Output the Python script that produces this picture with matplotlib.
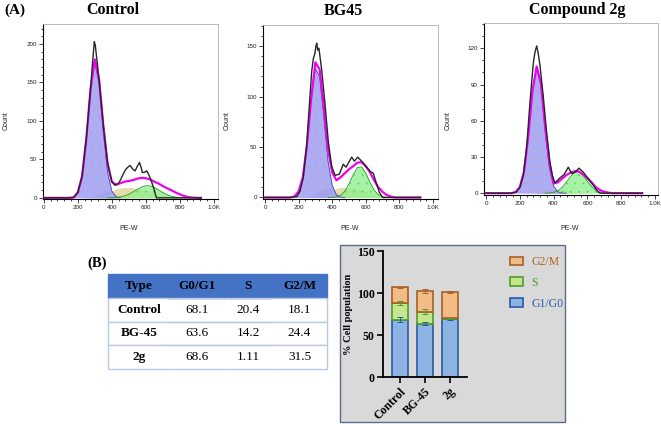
import matplotlib.pyplot as plt
from matplotlib.patches import Rectangle
from matplotlib.ticker import MultipleLocator, FixedLocator
import numpy as np

W, H = 661, 424
plt.rcParams['font.family'] = ['Liberation Sans', 'DejaVu Sans']
plt.rcParams['hatch.linewidth'] = 0.25
SERIF = 'Liberation Serif'

# ---- (A) cell cycle histograms, PE-W channel ----
pe_w = [0, 150, 175, 200, 225, 250, 275, 300, 325, 350, 375, 400, 425, 450, 475, 500,
        525, 550, 575, 600, 625, 650, 675, 700, 725, 750, 775, 800, 825, 850, 875, 900, 925]

# Control
ctrl_g1 = [0, 0, 1, 7, 28, 76, 140, 176, 149, 86, 33, 9, 1.5] + [0] * 20
ctrl_deb = [0, 0, 0, 0, 0, 0.5, 1.5, 3, 5, 7, 8.5, 7, 4, 1.5, 0.5] + [0] * 18
ctrl_s = [0] * 9 + [0.5, 3, 8, 12, 13, 13.5, 13.5, 13, 12, 11, 10, 8.5, 7, 5.5, 4.5, 3.5,
                    2.5, 2, 1.5, 1, 0.5, 0.2, 0, 0]
ctrl_g2 = [0] * 11 + [0.2, 0.5, 1.2, 2.5, 4.6, 7.7, 11, 14, 15.8, 15.6, 13.6, 10.4, 7, 4.1,
                      2.2, 1, 0.4, 0.1] + [0] * 4
ctrl_fit = [0, 0, 0.5, 7, 28, 77, 142, 180, 154, 94, 45, 21, 17, 19, 21, 22, 23, 25, 26,
            25.5, 24, 21, 18.5, 15.5, 12.5, 10, 7, 4.5, 2.5, 1, 0.3, 0, 0]
ctrl_cnt_x = [0, 150, 175, 200, 225, 250, 275, 290, 297, 303, 310, 325, 350, 375, 400, 418,
              440, 453, 467, 482, 495, 508, 518, 525, 537, 550, 563, 572, 580, 590, 606, 618,
              629, 640, 649, 656, 663, 925]
ctrl_cnt = [0, 0, 0.5, 7, 28, 77, 142, 185, 203, 198, 184, 154, 94, 45, 21, 16.5, 19, 24,
            31, 37, 40, 42, 39, 37, 35, 41, 46, 40, 33, 33, 35, 30, 24, 17, 11, 5, 0, 0]

# BG45
bg_g1 = [0, 0, 1, 5, 18.5, 50, 95, 128, 120, 79, 36, 12, 2.7, 0.4] + [0] * 19
bg_deb = [0] * 5 + [0.5, 2, 4, 6, 8, 9.5, 8, 5, 2, 0.5] + [0] * 18
bg_s = [0] * 10 + [1, 5, 9, 10, 10, 9.5, 9, 8, 7, 6, 4.5, 3, 1.5, 0.5] + [0] * 9
bg_g2 = [0] * 11 + [0.1, 0.6, 2.2, 6.1, 13.3, 22.5, 29.6, 30.4, 24.3, 15.1, 7.3, 2.8, 0.8,
                    0.2] + [0] * 8
bg_fit = [0, 0, 1, 6, 20, 52, 98, 134, 127, 90, 48, 25, 17, 20, 24, 28, 31, 34.5, 35, 31,
          25, 17, 10, 5.5, 2.5, 0.8, 0, 0, 0, 0, 0, 0, 0]
bg_cnt_x = [0, 150, 190, 208, 228, 248, 268, 278, 288, 296, 303, 308, 314, 321, 337, 357,
            377, 397, 417, 442, 466, 482, 496, 516, 532, 552, 575, 601, 625, 645, 661, 681,
            700, 925]
bg_cnt = [0, 0, 1, 6, 20, 52, 101, 125, 138, 142, 150, 153, 146, 148, 127, 93, 55, 31, 22,
          23, 33, 30, 34, 40, 36, 40, 36, 31, 26, 24, 15, 5, 0, 0]

# Compound 2g
cp_g1 = [0, 0, 0.9, 4.7, 17.8, 46.5, 84, 104, 89, 52, 21, 6, 1.1, 0.1] + [0] * 19
cp_deb = [0] * 7 + [0.3, 0.8, 1.5, 2, 2, 1.5, 0.8, 0.3] + [0] * 18
cp_s = [0] * 9 + [0.5, 1.5, 2.5, 3, 3, 2.5, 2, 1.5, 1, 0.5] + [0] * 14
cp_g2 = [0] * 10 + [0.2, 0.7, 2, 4.7, 9, 13.8, 17.4, 17.7, 14.7, 9.9, 5.5, 2.4, 0.9,
                    0.3] + [0] * 9
cp_fit = [0, 0, 1, 5, 18, 47, 85, 105, 91, 55, 25, 8, 9, 12, 15, 17, 18.2, 18, 15.5, 12.5,
          9, 5, 2.5, 1.2, 0.4, 0, 0, 0, 0, 0, 0, 0, 0]
cp_cnt_x = [0, 150, 180, 201, 221, 241, 260, 280, 290, 300, 310, 320, 339, 359, 379, 394,
            408, 438, 462, 487, 507, 527, 550, 576, 605, 635, 664, 680, 925]
cp_cnt = [0, 0, 1, 5, 15, 39, 75, 108, 117, 122, 115, 105, 80, 50, 25, 14, 8.5, 12.7, 15.4,
          21.5, 16.3, 17.4, 20.7, 17.4, 11.9, 6.6, 0.8, 0, 0]

pe_ticks = [0, 200, 400, 600, 800, 1000]
pe_labels = ['0', '200', '400', '600', '800', '1.0K']

# ---- (B) table + stacked bars ----
table_cols = ['Type', 'G0/G1', 'S', 'G2/M']
groups = ['Control', 'BG-45', '2g']
g0g1 = [68.1, 63.6, 68.6]
s_phase = [20.4, 14.2, 1.11]
g2m = [18.1, 24.4, 31.5]
g0g1_err = [3, 2, 1]
s_err = [2.5, 3, 0.5]
g2m_err = [1, 2, 0.8]

fig = plt.figure(figsize=(W / 100, H / 100), dpi=100)


def px_axes(l, t, r, b):
    return fig.add_axes([l / W, 1 - b / H, (r - l) / W, (b - t) / H])


def trim(x, y):
    # keep the nonzero stretch plus one zero each side
    nz = [i for i, v in enumerate(y) if v > 0]
    a, b = max(nz[0] - 1, 0), min(nz[-1] + 2, len(y))
    return x[a:b], y[a:b]


def flow_panel(box, xlim, ylim, ymajor, fit, cnt_x, cnt, g1, s, g2, deb):
    ax = px_axes(*box)
    ax.fill_between(pe_w, deb, color='#a8a8a8', lw=0, zorder=1)
    ax.fill_between(pe_w, s, color='#e4d9a0', alpha=0.9, lw=0, zorder=2)
    ax.fill_between(pe_w, g2, color='#90f090', alpha=0.8, lw=0, zorder=3)
    ax.fill_between(pe_w, g2, facecolor='none', edgecolor='#70d070', hatch='..', lw=0,
                    zorder=3)
    ax.fill_between(pe_w, g1, color='#a4a4f4', alpha=0.9, lw=0, zorder=4)
    ax.fill_between(pe_w, g1, facecolor='none', edgecolor='#c89cb8', hatch='..', lw=0,
                    zorder=4)
    ax.plot(*trim(pe_w, g1), color='#4848b8', lw=0.6, zorder=5)
    ax.plot(*trim(pe_w, g2), color='#20a020', lw=0.6, zorder=5)
    ax.plot(pe_w, fit, color='#f000f0', lw=1.6, zorder=6)
    ax.plot(cnt_x, cnt, color='#262626', lw=1.0, zorder=7)
    ax.set_xlim(*xlim)
    ax.set_ylim(*ylim)
    ax.xaxis.set_major_locator(FixedLocator(pe_ticks))
    ax.set_xticklabels(pe_labels)
    ax.xaxis.set_minor_locator(MultipleLocator(40))
    ax.yaxis.set_major_locator(MultipleLocator(ymajor))
    ax.yaxis.set_minor_locator(MultipleLocator(10))
    ax.tick_params(which='both', direction='out', width=0.6, labelsize=4.5, pad=1.5,
                   colors='#222222')
    ax.tick_params(which='major', length=2.8)
    ax.tick_params(which='minor', length=1.5)
    for sp in ['top', 'right']:
        ax.spines[sp].set_color('#b0b0b0')
        ax.spines[sp].set_linewidth(0.6)
    for sp in ['left', 'bottom']:
        ax.spines[sp].set_linewidth(0.8)
    return ax


flow_panel((43, 24, 218, 199), (-5, 1025), (-1.5, 226), 50,
           ctrl_fit, ctrl_cnt_x, ctrl_cnt, ctrl_g1, ctrl_s, ctrl_g2, ctrl_deb)
flow_panel((263, 25, 438, 199), (-12, 1030), (-1.5, 171), 50,
           bg_fit, bg_cnt_x, bg_cnt, bg_g1, bg_s, bg_g2, bg_deb)
flow_panel((484, 23, 658, 195), (-12, 1018), (-1.5, 141), 30,
           cp_fit, cp_cnt_x, cp_cnt, cp_g1, cp_s, cp_g2, cp_deb)

title_kw = dict(family=SERIF, fontweight='bold', fontsize=11.5, ha='center', va='center')
fig.text(113 / W, 1 - 10 / H, 'Control', **title_kw)
fig.text(343 / W, 1 - 11 / H, 'BG45', **title_kw)
fig.text(577 / W, 1 - 10 / H, 'Compound 2g', **title_kw)
fig.text(4 / W, 1 - 10 / H, '(A)', family=SERIF, fontweight='bold', fontsize=11,
         ha='left', va='center')
for cx in [6, 227, 448]:
    fig.text(cx / W, 1 - 121 / H, 'Count', rotation=90, fontsize=5, ha='center',
             va='center', color='#222222')
for cx in [129, 350, 570]:
    fig.text(cx / W, 1 - 228 / H, 'PE-W', fontsize=5, ha='center', va='center',
             color='#222222')

# ---- (B) table ----
fig.text(87 / W, 1 - 263 / H, '(B)', family=SERIF, fontweight='bold', fontsize=10.5,
         ha='left', va='center')
tx = px_axes(108, 274, 327, 369)
tx.axis('off')
rows = [[g, str(a), str(b), str(c)] for g, a, b, c in zip(groups, g0g1, s_phase, g2m)]
tab = tx.table(cellText=rows, colLabels=table_cols, bbox=[0, 0, 1, 1], cellLoc='center',
               colWidths=[62, 54, 48, 55])
tab.auto_set_font_size(False)
for (r, c), cell in tab.get_celld().items():
    txt = cell.get_text()
    txt.set_fontfamily(SERIF)
    txt.set_fontsize(9.5)
    cell.set_linewidth(1.0)
    if r == 0:
        cell.set_facecolor('#4472c4')
        cell.set_edgecolor('#4472c4')
        txt.set_fontweight('bold')
    else:
        cell.set_edgecolor('#b8c9e6')
        edges = 'TB' + ('L' if c == 0 else '') + ('R' if c == 3 else '')
        cell.visible_edges = edges
        if c == 0:
            txt.set_fontweight('bold')

# ---- (B) stacked bars ----
fig.patches.append(Rectangle((340 / W, 1 - 422 / H), 225 / W, 177 / H,
                             transform=fig.transFigure, facecolor='#d9d9d9',
                             edgecolor='#5d6c86', lw=1.0, zorder=-1))
bx = px_axes(383, 251, 467, 377)
bx.patch.set_visible(False)
xpos = np.arange(len(groups))
bw = 0.64
s_bottom = g0g1
g2_bottom = [a + b for a, b in zip(g0g1, s_phase)]
tops = [a + b for a, b in zip(g2_bottom, g2m)]
bx.bar(xpos, g0g1, bw, color='#8db3e2', edgecolor='#2a5aa6', lw=1.2, label='G1/G0')
bx.bar(xpos, s_phase, bw, bottom=s_bottom, color='#c6e68e', edgecolor='#4c9e2c', lw=1.2,
       label='S')
bx.bar(xpos, g2m, bw, bottom=g2_bottom, color='#f3bb86', edgecolor='#a85f24', lw=1.2,
       label='G2/M')
bx.errorbar(xpos, g0g1, yerr=g0g1_err, fmt='none', ecolor='#2a5aa6', elinewidth=0.7,
            capsize=2.5, capthick=0.7)
bx.errorbar(xpos, g2_bottom, yerr=s_err, fmt='none', ecolor='#4c9e2c', elinewidth=0.7,
            capsize=2.5, capthick=0.7)
bx.errorbar(xpos, tops, yerr=g2m_err, fmt='none', ecolor='#a85f24', elinewidth=0.7,
            capsize=2.5, capthick=0.7)
bx.set_xlim(-0.66, 2.7)
bx.set_ylim(0, 150)
bx.set_yticks([0, 50, 100, 150])
bx.set_xticks(xpos)
bx.set_xticklabels(groups, rotation=45, ha='right', rotation_mode='anchor')
for lab in bx.get_xticklabels() + bx.get_yticklabels():
    lab.set_fontfamily(SERIF)
    lab.set_fontweight('bold')
    lab.set_fontsize(8.5)
bx.tick_params(direction='out', length=4, width=1.2, pad=2)
bx.spines['top'].set_visible(False)
bx.spines['right'].set_visible(False)
bx.spines['left'].set_linewidth(1.3)
bx.spines['bottom'].set_linewidth(1.3)
bx.set_ylabel('% Cell population', family=SERIF, fontweight='bold', fontsize=7.5)
bx.yaxis.set_label_coords(-0.36, 0.5)

handles, labels = bx.get_legend_handles_labels()
leg = bx.legend(handles[::-1], labels[::-1], loc='upper left',
                bbox_to_anchor=(510 / W, 1 - 256 / H), bbox_transform=fig.transFigure,
                frameon=False, prop={'family': SERIF, 'size': 8.5}, handlelength=1.1,
                handleheight=0.75, handletextpad=0.7, labelspacing=0.75, borderpad=0,
                borderaxespad=0)
for t, c in zip(leg.get_texts(), ['#b0651f', '#4a9a2a', '#2d5da8']):
    t.set_color(c)

fig.savefig('out.png', dpi=100)
